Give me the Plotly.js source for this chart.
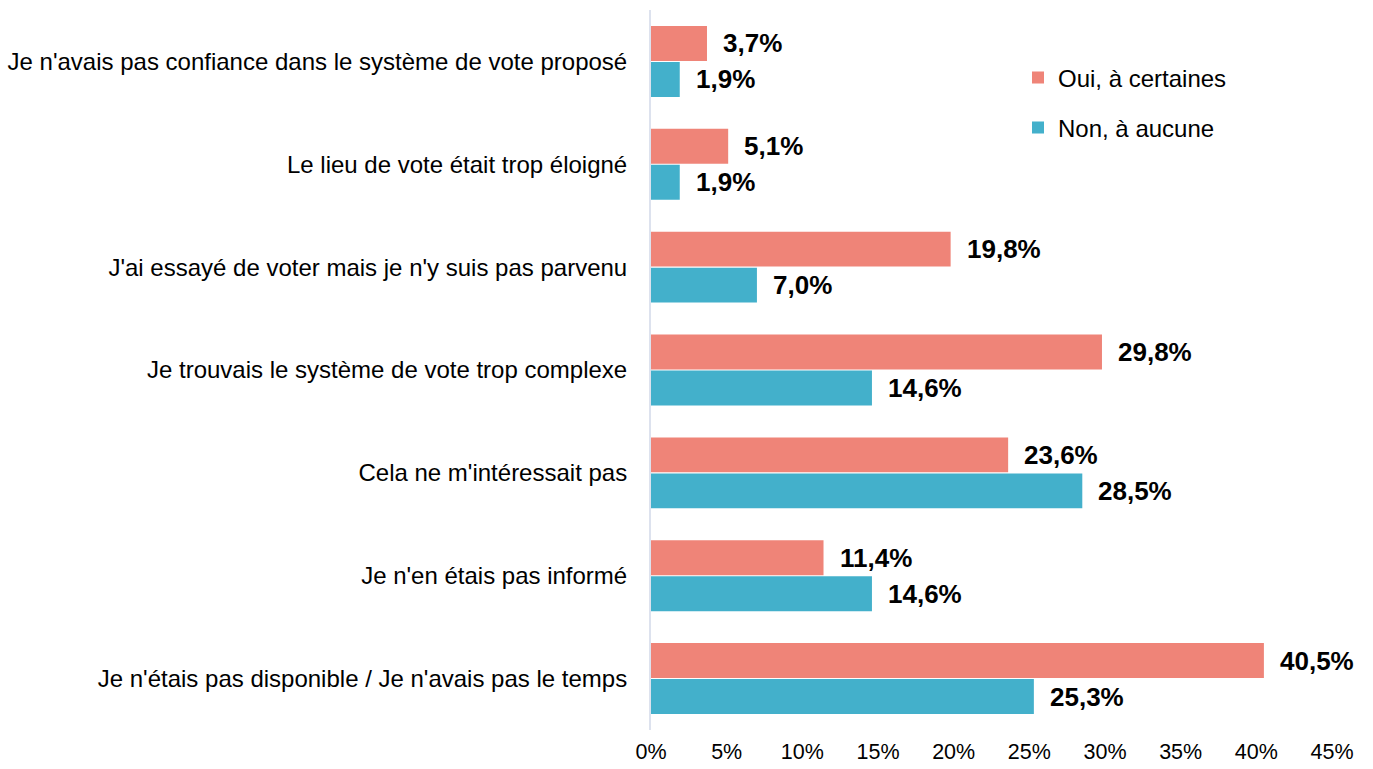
<!DOCTYPE html>
<html>
<head>
<meta charset="utf-8">
<script src="https://cdn.plot.ly/plotly-3.0.1.min.js"></script>
<style>html,body{margin:0;padding:0;background:#fff;}#chart{width:1373px;height:769px;}</style>
</head>
<body>
<div id="chart"></div>
<script>
var categories = [
  "Je n'avais pas confiance dans le système de vote proposé",
  "Le lieu de vote était trop éloigné",
  "J'ai essayé de voter mais je n'y suis pas parvenu",
  "Je trouvais le système de vote trop complexe",
  "Cela ne m'intéressait pas",
  "Je n'en étais pas informé",
  "Je n'étais pas disponible / Je n'avais pas le temps"
];
var ouiValues = [3.7, 5.1, 19.8, 29.8, 23.6, 11.4, 40.5];
var nonValues = [1.9, 1.9, 7.0, 14.6, 28.5, 14.6, 25.3];
var seriesNames = ["Oui, à certaines", "Non, à aucune"];
var colors = ["#EF8478", "#43B0CB"];

function fmt(v){ return v.toFixed(1).replace('.', ',') + '%'; }

var font = "Liberation Sans, Arial, sans-serif";

var traces = [
  {type:'bar', orientation:'h', name:seriesNames[0], y:categories, x:ouiValues,
   marker:{color:colors[0]}, legend:'legend', hoverinfo:'skip'},
  {type:'bar', orientation:'h', name:seriesNames[1], y:categories, x:nonValues,
   marker:{color:colors[1]}, legend:'legend2', hoverinfo:'skip'}
];

var annotations = [];
categories.forEach(function(c, i){
  annotations.push({x:ouiValues[i], y:c, xref:'x', yref:'y', text:fmt(ouiValues[i]),
    showarrow:false, xanchor:'left', yanchor:'middle', xshift:14, yshift:18,
    font:{family:font, size:26, color:'#000', weight:'bold'}});
  annotations.push({x:nonValues[i], y:c, xref:'x', yref:'y', text:fmt(nonValues[i]),
    showarrow:false, xanchor:'left', yanchor:'middle', xshift:14, yshift:-18,
    font:{family:font, size:26, color:'#000', weight:'bold'}});
});

var layout = {
  width:1373, height:769,
  margin:{l:651, r:41, t:10, b:39},
  paper_bgcolor:'#fff', plot_bgcolor:'#fff',
  font:{family:font, color:'#000'},
  barmode:'group', bargap:0.3, bargroupgap:0.03,
  xaxis:{range:[0,45], dtick:5, tick0:0, ticksuffix:'%', showgrid:false, zeroline:false,
         showline:false, ticks:'', ticklabelstandoff:6, tickfont:{size:21.5, family:font, color:'#000'}},
  yaxis:{type:'category', categoryarray:categories, autorange:'reversed', showgrid:false,
         zeroline:false, showline:true, linecolor:'#DDE2EE', linewidth:2, ticks:'',
         ticklabelstandoff:17, tickfont:{size:24, family:font, color:'#000'}},
  showlegend:true,
  legend:{bgcolor:'rgba(0,0,0,0)', font:{size:24, family:font, color:'#000'}},
  legend2:{bgcolor:'rgba(0,0,0,0)', font:{size:24, family:font, color:'#000'}},
  annotations:annotations
};
var pw = 1373-651-41, ph = 769-10-39;
function px2x(px){ return (px-651)/pw; }
function py2y(py){ return 1-(py-10)/ph; }
layout.legend.x = px2x(1018); layout.legend.y = py2y(78); layout.legend.xanchor='left'; layout.legend.yanchor='middle';
layout.legend2.x = px2x(1018); layout.legend2.y = py2y(128); layout.legend2.xanchor='left'; layout.legend2.yanchor='middle';

Plotly.newPlot('chart', traces, layout, {displayModeBar:false, staticPlot:true});
</script>
</body>
</html>
